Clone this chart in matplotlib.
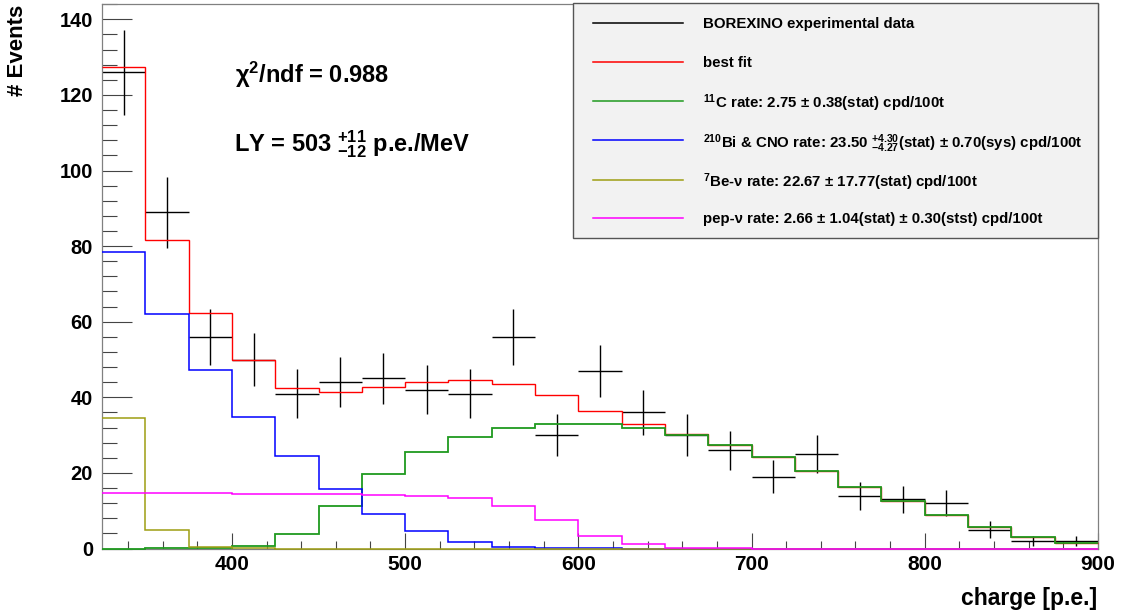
import matplotlib
matplotlib.use("Agg")
import matplotlib.pyplot as plt
from matplotlib.lines import Line2D
from matplotlib.patches import Rectangle
from matplotlib.ticker import MultipleLocator
import numpy as np

plt.rcParams['font.family'] = ['Liberation Sans', 'DejaVu Sans']
plt.rcParams['font.weight'] = 'bold'
plt.rcParams['mathtext.fontset'] = 'custom'
plt.rcParams['mathtext.rm'] = 'Liberation Sans:bold'
plt.rcParams['mathtext.it'] = 'Liberation Sans:bold'
plt.rcParams['mathtext.bf'] = 'Liberation Sans:bold'
plt.rcParams['mathtext.sf'] = 'Liberation Sans:bold'

# ---------------- data ----------------
bin_edges = list(range(325, 901, 25))
data_counts = [126, 89, 56, 50, 41, 44, 45, 42, 41, 56, 30, 47, 36, 30, 26,
               19, 25, 14, 13, 12, 5, 2, 2]
data_errors = [11.2, 9.4, 7.5, 7.1, 6.4, 6.6, 6.7, 6.5, 6.4, 7.5, 5.5, 6.9,
               6.0, 5.5, 5.1, 4.4, 5.0, 3.7, 3.6, 3.5, 2.2, 1.4, 1.4]
best_fit = [127.5, 81.5, 62.2, 49.9, 42.5, 41.3, 42.7, 44.0, 44.5, 43.5, 40.5,
            36.4, 33.0, 30.4, 27.5, 24.3, 20.6, 16.4, 12.6, 8.8, 5.7, 3.1, 1.4]
c11 = [0.0, 0.05, 0.2, 0.6, 3.8, 11.3, 19.7, 25.6, 29.6, 32.0, 33.0, 33.0,
       31.9, 30.1, 27.5, 24.3, 20.6, 16.4, 12.6, 8.8, 5.7, 3.1, 1.4]
bi_cno = [78.5, 62.0, 47.3, 34.9, 24.5, 15.7, 9.1, 4.5, 1.8, 0.5, 0.2, 0.05,
          0, 0, 0, 0, 0, 0, 0, 0, 0, 0, 0]
be7 = [34.4, 4.9, 0.4, 0.05, 0, 0, 0, 0, 0, 0, 0, 0, 0, 0, 0, 0, 0, 0, 0, 0,
       0, 0, 0]
pep = [14.8, 14.8, 14.6, 14.5, 14.4, 14.3, 14.1, 13.9, 13.3, 11.3, 7.6, 3.3,
       1.1, 0.2, 0.05, 0, 0, 0, 0, 0, 0, 0, 0]

legend_labels = [
    "BOREXINO experimental data",
    "best fit",
    r"$^{11}$C rate: 2.75 ± 0.38(stat) cpd/100t",
    r"$^{210}$Bi & CNO rate: 23.50 ${}^{+4.30}_{-4.27}$(stat) ± 0.70(sys) cpd/100t",
    r"$^{7}$Be-ν rate: 22.67 ± 17.77(stat) cpd/100t",
    r"pep-ν rate: 2.66 ± 1.04(stat) ± 0.30(stst) cpd/100t",
]
colors = ["black", "#ff0000", "#1f9a1f", "#0000ff", "#9e9e12", "#ff00ff"]

# ---------------- figure ----------------
W, H = 1126, 615
fig = plt.figure(figsize=(W / 100, H / 100), dpi=100)
fx = lambda px: px / W
fy = lambda py: 1 - py / H

ax = fig.add_axes([fx(102), fy(548.5), fx(1098) - fx(102), fy(3.5) - fy(548.5)])

edges = np.array(bin_edges, dtype=float)
centers = (edges[:-1] + edges[1:]) / 2
half = (edges[1] - edges[0]) / 2

ax.errorbar(centers, data_counts, xerr=half, yerr=data_errors, fmt='none',
            ecolor='black', elinewidth=1.0, capsize=0, zorder=2)

for vals, col, z, lw in [(best_fit, colors[1], 3, 1.0), (c11, colors[2], 4, 1.3),
                         (bi_cno, colors[3], 5, 1.1), (be7, colors[4], 6, 1.1),
                         (pep, colors[5], 7, 1.1)]:
    ax.stairs(vals, edges, baseline=None, color=col, lw=lw, zorder=z,
              clip_on=False)

ax.set_xlim(325, 900)
ax.set_ylim(0, 144.2)

ax.xaxis.set_major_locator(MultipleLocator(100))
ax.xaxis.set_minor_locator(MultipleLocator(20))
ax.yaxis.set_major_locator(MultipleLocator(20))
ax.yaxis.set_minor_locator(MultipleLocator(4))

ax.tick_params(axis='x', which='major', direction='in', length=11.5, width=0.8,
               color='#444444', labelsize=15, pad=5, top=False)
ax.tick_params(axis='x', which='minor', direction='in', length=5.8, width=0.8,
               color='#444444', top=False)
ax.tick_params(axis='y', which='major', direction='in', length=21.6, width=0.8,
               color='#444444', labelsize=14.5, pad=6.5, right=False)
ax.tick_params(axis='y', which='minor', direction='in', length=10.8, width=0.8,
               color='#444444', right=False)
for lab in ax.get_xticklabels() + ax.get_yticklabels():
    lab.set_fontweight('bold')

for sp in ax.spines.values():
    sp.set_color('#808080')
    sp.set_linewidth(0.9)

# axis titles
fig.text(fx(1097), fy(605), "charge [p.e.]", ha='right', va='baseline',
         fontsize=16.5, fontweight='bold')
fig.text(fx(17.5), fy(5), "# Events", ha='center', va='top', rotation=90,
         fontsize=16, fontweight='bold')

# annotations
fig.text(fx(235), fy(83), r"χ$^{2}$/ndf = 0.988", ha='left', va='baseline',
         fontsize=17, fontweight='bold')
fig.text(fx(234), fy(151), r"LY = 503 ${}^{+11}_{-12}$ p.e./MeV", ha='left',
         va='baseline', fontsize=17, fontweight='bold')

# legend (manual, ROOT-style)
box = Rectangle((fx(573), fy(238)), fx(1098) - fx(573), fy(3) - fy(238),
                transform=fig.transFigure, facecolor='#f2f2f2',
                edgecolor='#555555', lw=1.0, zorder=10)
fig.add_artist(box)
row_y = [22.7, 61.7, 100.5, 140, 179.5, 218]
for lbl, col, ry in zip(legend_labels, colors, row_y):
    fig.add_artist(Line2D([fx(593), fx(683)], [fy(ry), fy(ry)],
                          transform=fig.transFigure, color=col, lw=1.1,
                          zorder=11))
    fig.text(fx(703), fy(ry), lbl, ha='left', va='center_baseline',
             fontsize=10.8, fontweight='bold', zorder=12)

fig.savefig("out.png", dpi=100)
